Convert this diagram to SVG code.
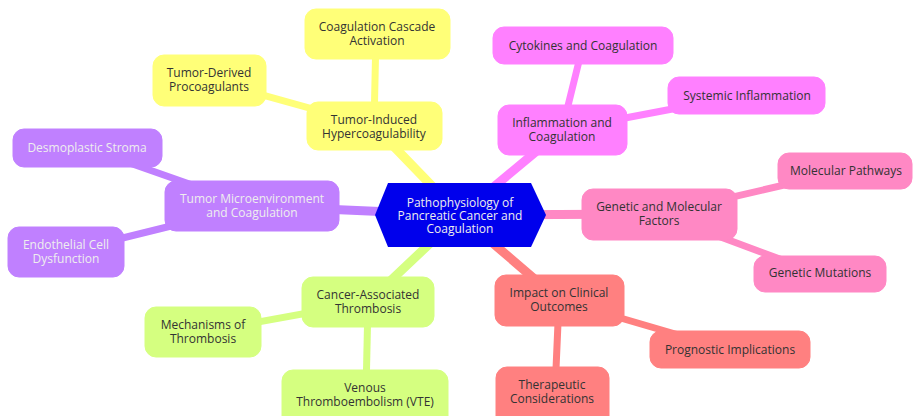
<svg xmlns="http://www.w3.org/2000/svg" width="917" height="416" viewBox="0 0 917 416">
<style>
text{font-family:"Open Sans","Noto Sans","Liberation Sans",sans-serif;font-size:12px;text-anchor:middle;fill:#333}
.e1{stroke-width:9;stroke-linecap:round;fill:none}
.e2{stroke-width:7;stroke-linecap:round;fill:none}
.y{fill:#ffff78;stroke:#ffff78}
.m{fill:#ff80ff;stroke:#ff80ff}
.p{fill:#c080ff;stroke:#c080ff}
.k{fill:#ff88c4;stroke:#ff88c4}
.s{fill:#ff8080;stroke:#ff8080}
.g{fill:#d5ff80;stroke:#d5ff80}
line.y,line.m,line.p,line.k,line.s,line.g{fill:none}
.lt{fill:#eee}
</style>
<g id="connectors">
<line class="e1 y" x1="460" y1="215" x2="374" y2="126"/>
<line class="e1 m" x1="460" y1="215" x2="562" y2="130"/>
<line class="e1 p" x1="460" y1="215" x2="252" y2="206"/>
<line class="e1 k" x1="460" y1="215" x2="659" y2="214"/>
<line class="e1 s" x1="460" y1="215" x2="559" y2="300"/>
<line class="e1 g" x1="460" y1="215" x2="368" y2="302"/>
<line class="e2 y" x1="374" y1="126" x2="376" y2="34"/>
<line class="e2 y" x1="374" y1="126" x2="209" y2="80"/>
<line class="e2 m" x1="562" y1="130" x2="583" y2="45"/>
<line class="e2 m" x1="562" y1="130" x2="746" y2="95"/>
<line class="e2 p" x1="252" y1="206" x2="87" y2="148"/>
<line class="e2 p" x1="252" y1="206" x2="66" y2="252"/>
<line class="e2 k" x1="659" y1="214" x2="845" y2="171"/>
<line class="e2 k" x1="659" y1="214" x2="820" y2="274"/>
<line class="e2 s" x1="559" y1="300" x2="730" y2="350"/>
<line class="e2 s" x1="559" y1="300" x2="555" y2="392"/>
<line class="e2 g" x1="368" y1="302" x2="203" y2="332"/>
<line class="e2 g" x1="368" y1="302" x2="366" y2="393"/>
</g>
<g id="root">
<polygon points="375,215 388,183 531,183 546,215 531,247 388,247" fill="#0000ec"/>
<text class="lt" x="460" y="207"><tspan x="460">Pathophysiology of</tspan><tspan x="460" dy="13">Pancreatic Cancer and</tspan><tspan x="460" dy="13">Coagulation</tspan></text>
</g>
<g id="tumor-induced">
<rect class="y" x="307" y="102" width="135" height="48" rx="11"/>
<text x="374" y="124"><tspan x="374">Tumor-Induced</tspan><tspan x="374" dy="14">Hypercoagulability</tspan></text>
</g>
<g id="cascade">
<rect class="y" x="305" y="9" width="145" height="50" rx="11"/>
<text x="377" y="31"><tspan x="377">Coagulation Cascade</tspan><tspan x="377" dy="14">Activation</tspan></text>
</g>
<g id="procoagulants">
<rect class="y" x="153" y="55" width="113" height="51" rx="11"/>
<text x="209" y="77"><tspan x="209">Tumor-Derived</tspan><tspan x="209" dy="14">Procoagulants</tspan></text>
</g>
<g id="inflammation">
<rect class="m" x="498" y="105" width="129" height="50" rx="11"/>
<text x="562" y="127"><tspan x="562">Inflammation and</tspan><tspan x="562" dy="14">Coagulation</tspan></text>
</g>
<g id="cytokines">
<rect class="m" x="493" y="27" width="180" height="37" rx="11"/>
<text x="583" y="50">Cytokines and Coagulation</text>
</g>
<g id="systemic">
<rect class="m" x="668" y="77" width="157" height="37" rx="11"/>
<text x="747" y="100">Systemic Inflammation</text>
</g>
<g id="microenvironment">
<rect class="p" x="165" y="181" width="174" height="50" rx="11"/>
<text class="lt" x="252" y="203"><tspan x="252">Tumor Microenvironment</tspan><tspan x="252" dy="14">and Coagulation</tspan></text>
</g>
<g id="stroma">
<rect class="p" x="13" y="129" width="149" height="38" rx="11"/>
<text class="lt" x="87" y="152">Desmoplastic Stroma</text>
</g>
<g id="endothelial">
<rect class="p" x="8" y="227" width="116" height="50" rx="11"/>
<text class="lt" x="66" y="249"><tspan x="66">Endothelial Cell</tspan><tspan x="66" dy="14">Dysfunction</tspan></text>
</g>
<g id="genetic">
<rect class="k" x="582" y="189" width="155" height="51" rx="11"/>
<text x="659" y="211"><tspan x="659">Genetic and Molecular</tspan><tspan x="659" dy="14">Factors</tspan></text>
</g>
<g id="pathways">
<rect class="k" x="778" y="153" width="134" height="36" rx="11"/>
<text x="846" y="175">Molecular Pathways</text>
</g>
<g id="mutations">
<rect class="k" x="754" y="256" width="132" height="36" rx="11"/>
<text x="820" y="277">Genetic Mutations</text>
</g>
<g id="clinical">
<rect class="s" x="495" y="275" width="129" height="51" rx="11"/>
<text x="559" y="297"><tspan x="559">Impact on Clinical</tspan><tspan x="559" dy="14">Outcomes</tspan></text>
</g>
<g id="prognostic">
<rect class="s" x="650" y="331" width="160" height="37" rx="11"/>
<text x="730" y="354">Prognostic Implications</text>
</g>
<g id="therapeutic">
<rect class="s" x="496" y="367" width="113" height="60" rx="11"/>
<text x="552" y="389"><tspan x="552">Therapeutic</tspan><tspan x="552" dy="14">Considerations</tspan></text>
</g>
<g id="thrombosis">
<rect class="g" x="302" y="277" width="132" height="50" rx="11"/>
<text x="368" y="299"><tspan x="368">Cancer-Associated</tspan><tspan x="368" dy="14">Thrombosis</tspan></text>
</g>
<g id="mechanisms">
<rect class="g" x="145" y="307" width="116" height="50" rx="11"/>
<text x="203" y="329"><tspan x="203">Mechanisms of</tspan><tspan x="203" dy="14">Thrombosis</tspan></text>
</g>
<g id="vte">
<rect class="g" x="282" y="370" width="166" height="60" rx="11"/>
<text x="365" y="392"><tspan x="365">Venous</tspan><tspan x="365" dy="14">Thromboembolism (VTE)</tspan></text>
</g>
</svg>
